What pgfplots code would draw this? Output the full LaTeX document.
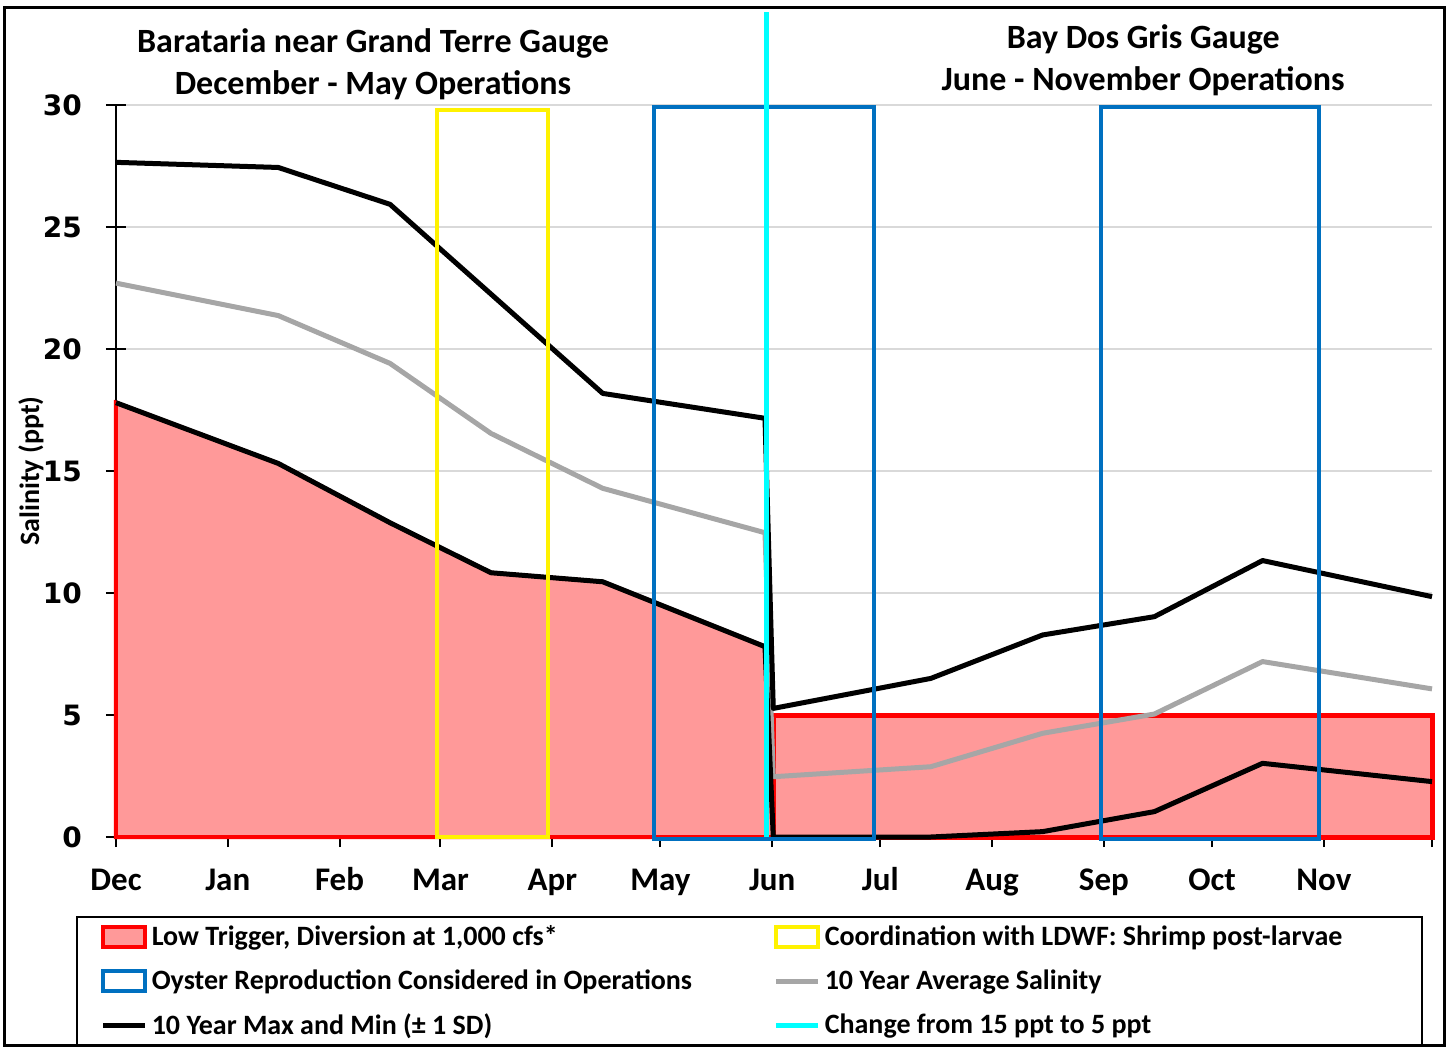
\documentclass[border=0pt]{standalone}
\usepackage{pgfplots}
\pgfplotsset{compat=1.18}
\usepackage{fontspec}
\setmainfont{Carlito}
\newfontfamily\numfont{DejaVu Sans}

\definecolor{lowfill}{RGB}{255,153,153}
\definecolor{oyster}{RGB}{0,112,192}
\definecolor{avggray}{RGB}{166,166,166}
\definecolor{gridgray}{RGB}{217,217,217}
\definecolor{switchcyan}{RGB}{0,255,255}

% x = days after Dec 1
\pgfplotstableread{
day val
0     27.65
45    27.44
76    25.93
135   18.18
180   17.16
182.3 5.27
226   6.50
257   8.28
288   9.03
318   11.33
365   9.85
}\maxtab
\pgfplotstableread{
day val
0     22.70
45    21.37
76    19.41
104   16.54
135   14.29
180   12.47
182.3 2.47
226   2.88
257   4.25
288   5.04
318   7.19
365   6.07
}\avgtab
\pgfplotstableread{
day val
0     17.80
45    15.31
76    12.88
104   10.83
135   10.46
180   7.80
182.3 0.00
226   0.00
257   0.22
288   1.04
318   3.02
365   2.27
}\mintab

\begin{document}
\begin{tikzpicture}
\useasboundingbox (-58pt,-106pt) rectangle (667.5pt,418.5pt);
\begin{axis}[
    at={(0pt,0pt)}, anchor=south west,
    width=658pt, height=366pt, scale only axis,
    xmin=0, xmax=365, ymin=0, ymax=30,
    clip=false,
    axis x line*=bottom, axis y line*=left,
    axis line style={black, line width=1pt, -},
    xtick={0,31,62,90,121,151,182,212,243,274,304,335,365},
    xticklabels={Dec,Jan,Feb,Mar,Apr,May,Jun,Jul,Aug,Sep,Oct,Nov,},
    ytick={0,5,...,30},
    tick align=center, major tick length=10pt,
    tick style={black, line width=1pt},
    ymajorgrids, grid style={gridgray, line width=0.8pt},
    xticklabel style={font=\fontsize{16.5}{16.5}\selectfont\bfseries, anchor=base, yshift=-21.5pt},
    yticklabel style={font=\numfont\bfseries\fontsize{14}{14}\selectfont, xshift=-8.5pt},
    /pgf/number format/assume math mode=true,
    ylabel={Salinity (ppt)},
    ylabel style={font=\fontsize{14}{14}\selectfont\bfseries, at={(axis description cs:-0.0646,0.5)}, anchor=center},
    legend columns=2,
    legend style={at={(-0.0304,-0.1079)}, anchor=north west, draw=black, line width=0.8pt,
        inner xsep=12pt, inner ysep=2.5pt, row sep=6.5pt, column sep=0pt,
        font=\fontsize{14}{14}\selectfont\bfseries, cells={anchor=west}},
]
% low trigger areas
\addplot[fill=lowfill, draw=red, line width=2pt, forget plot] coordinates
    {(0,0)(0,17.80)(45,15.31)(76,12.88)(104,10.83)(135,10.46)(180,7.80)(182.3,0)} -- cycle;
\addplot[fill=lowfill, draw=red, line width=2.5pt, forget plot] coordinates
    {(182.3,0)(182.3,5)(365,5)(365,0)} -- cycle;
% salinity lines
\addplot[avggray, line width=2.5pt, line join=round, forget plot] table[x=day, y=val] {\avgtab};
\addplot[black, line width=2.5pt, line join=round, forget plot] table[x=day, y=val] {\maxtab};
\addplot[black, line width=2.5pt, line join=round, forget plot] table[x=day, y=val] {\mintab};
% shrimp and oyster windows
\addplot[draw=yellow, line width=2pt, forget plot] coordinates
    {(89,0)(89,29.8)(119.8,29.8)(119.8,0)} -- cycle;
\addplot[draw=oyster, line width=2pt, forget plot] coordinates
    {(149.2,-0.08)(149.2,29.92)(210.3,29.92)(210.3,-0.08)} -- cycle;
\addplot[draw=oyster, line width=2pt, forget plot] coordinates
    {(273.2,-0.08)(273.2,29.92)(333.7,29.92)(333.7,-0.08)} -- cycle;
% threshold change
\addplot[switchcyan, line width=2.5pt, forget plot] coordinates {(180.5,0)(180.5,33.8)};

\node[align=center, font=\fontsize{17}{21}\selectfont\bfseries] at (axis cs:71.3,31.66)
    {Barataria near Grand Terre Gauge\\December - May Operations};
\node[align=center, font=\fontsize{17}{21}\selectfont\bfseries] at (axis cs:284.9,31.83)
    {Bay Dos Gris Gauge\\June - November Operations};

\addlegendimage{legend image code/.code={\draw[draw=red, fill=lowfill, line width=2pt] (0pt,-5pt) rectangle (21pt,5pt);}}
\addlegendentry{\makebox[309pt][l]{Low Trigger, Diversion at 1,000 cfs*}}
\addlegendimage{legend image code/.code={\draw[draw=yellow, fill=white, line width=2pt] (0pt,-5pt) rectangle (21pt,5pt);}}
\addlegendentry{\makebox[284.5pt][l]{Coordination with LDWF: Shrimp post-larvae}}
\addlegendimage{legend image code/.code={\draw[draw=oyster, fill=white, line width=2pt] (0pt,-5pt) rectangle (21pt,5pt);}}
\addlegendentry{Oyster Reproduction Considered in Operations}
\addlegendimage{legend image code/.code={\draw[avggray, line width=2.5pt] (0pt,0pt) -- (21pt,0pt);}}
\addlegendentry{10 Year Average Salinity}
\addlegendimage{legend image code/.code={\draw[black, line width=2.5pt] (0pt,0pt) -- (21pt,0pt);}}
\addlegendentry{10 Year Max and Min (± 1 SD)}
\addlegendimage{legend image code/.code={\draw[switchcyan, line width=2.5pt] (0pt,0pt) -- (21pt,0pt);}}
\addlegendentry{Change from 15 ppt to 5 ppt}
\end{axis}
\draw[line width=1.5pt] (-55.5pt,-104.25pt) rectangle (664.25pt,414.5pt);
\end{tikzpicture}
\end{document}
